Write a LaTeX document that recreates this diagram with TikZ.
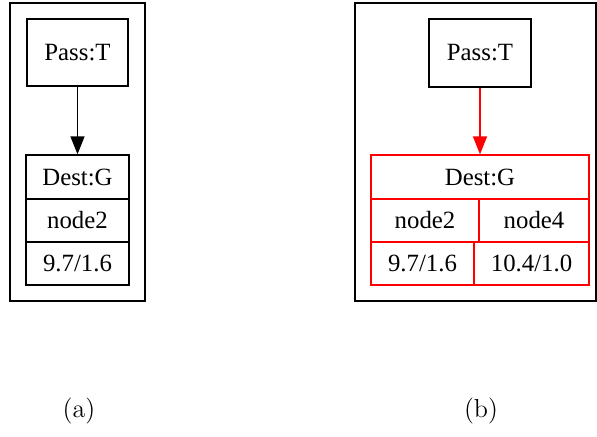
\documentclass[tikz,border=0pt]{standalone}
\usepackage{fontspec}
\newfontfamily\graphfont{Liberation Serif}
\usetikzlibrary{fit,arrows.meta}
\begin{document}
\begin{tikzpicture}[x=0.5pt,y=-0.5pt,
  box/.style={draw, line width=0.65pt, inner sep=0pt},
  celltext/.style={inner sep=0pt, font=\graphfont\fontsize{12.4}{14}\selectfont},
  frame/.style={draw, line width=0.65pt, inner sep=0pt},
  hot/.style={draw=red},
  edge/.style={line width=0.75pt, -{Triangle[length=9pt,width=7pt]}},
  caption/.style={font=\fontsize{13}{15}\selectfont}]
\useasboundingbox (0,0) rectangle (597,437);

% (a): a single destination
\node[frame, fit={(10,3) (145,301)}] (frameA) {};
\node[box, fit={(27,19) (128,86)}] (passA) {};
\node[celltext] at (passA.center) {Pass:T};
\node[box, fit={(26,155) (129,199)}] (destA) {};
\node[celltext] at (destA.center) {Dest:G};
\node[box, fit={(26,199) (129,242)}] (nodeA) {};
\node[celltext] at (nodeA.center) {node2};
\node[box, fit={(26,242) (129,285)}] (valA) {};
\node[celltext] at (valA.center) {9.7/1.6};
\draw[edge] (passA.south) -- (destA.north);

% (b): the destination split over two nodes
\node[frame, fit={(355,3) (596,301)}] (frameB) {};
\node[box, fit={(429,19) (531,87)}] (passB) {};
\node[celltext] at (passB.center) {Pass:T};
\node[box, hot, fit={(371,155) (589,199)}] (destB) {};
\node[celltext] at (destB.center) {Dest:G};
\node[box, hot, fit={(371,199) (479,242)}] (nodeB1) {};
\node[celltext] at (nodeB1.center) {node2};
\node[box, hot, fit={(479,199) (589,242)}] (nodeB2) {};
\node[celltext] at (nodeB2.center) {node4};
\node[box, hot, fit={(371,242) (474,285)}] (valB1) {};
\node[celltext] at (valB1.center) {9.7/1.6};
\node[box, hot, fit={(474,242) (589,285)}] (valB2) {};
\node[celltext] at (valB2.center) {10.4/1.0};
\draw[edge, red] (passB.south) -- (destB.north);

\node[caption] (capA) at (79,411) {(a)};
\node[caption] (capB) at (481,411) {(b)};
\end{tikzpicture}
\end{document}
